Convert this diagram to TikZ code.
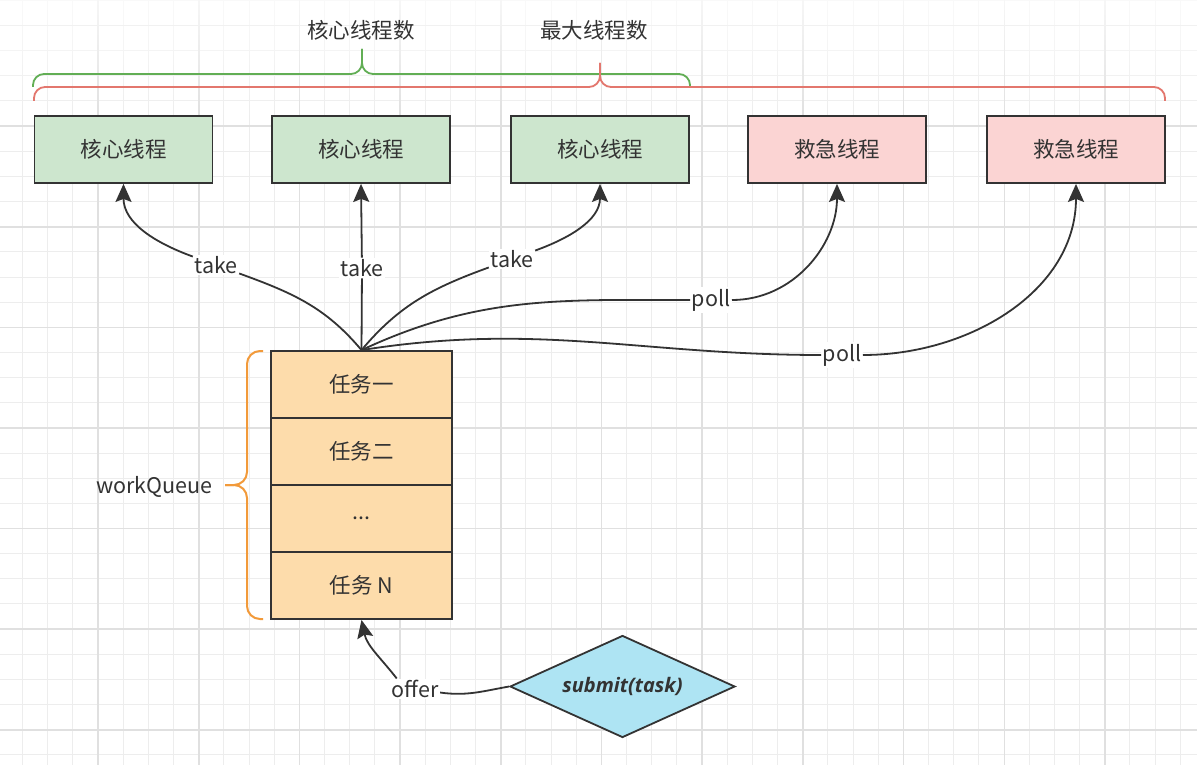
\documentclass[tikz,border=0pt]{standalone}
\usepackage{fontspec}
\setmainfont{Noto Sans CJK SC}
\newfontfamily\osans{Open Sans}
\usetikzlibrary{shapes.geometric,arrows.meta}
\definecolor{ink}{HTML}{333333}
\definecolor{gfill}{HTML}{CDE6CE}
\definecolor{rfill}{HTML}{FBD4D3}
\definecolor{ofill}{HTML}{FDDCAB}
\definecolor{dfill}{HTML}{AEE4F3}
\definecolor{gbrace}{HTML}{62AE55}
\definecolor{rbrace}{HTML}{E3776E}
\definecolor{obrace}{HTML}{F29A3A}
\definecolor{gminor}{HTML}{EDEDED}
\definecolor{gmajor}{HTML}{E0E0E0}
\newcommand\fsz{\fontsize{21.5}{25}\selectfont}
\begin{document}
\begin{tikzpicture}[x=1pt,y=-1pt,
  box/.style={draw=ink,line width=1.8pt,minimum width=178pt,minimum height=67pt,inner sep=0pt,font=\fsz,text=ink},
  core/.style={box,fill=gfill},
  spare/.style={box,fill=rfill},
  task/.style={draw=ink,line width=1.8pt,fill=ofill,minimum width=181pt,minimum height=67pt,inner sep=0pt,font=\fsz,text=ink},
  lbl/.style={fill=white,inner sep=1.5pt,font=\fsz,text=ink},
  edge/.style={draw=ink,line width=1.8pt,-{Stealth[length=18pt,width=16pt,inset=3pt]}},
  minorline/.style={draw=gminor,line width=1pt},
  majorline/.style={draw=gmajor,line width=1.6pt},
  bracestyle/.style={line width=1.8pt,rounded corners=11pt}
]
\useasboundingbox (0,0) rectangle (1197,765);
\fill[white] (0,0) rectangle (1197,765);
% grid
\foreach \i in {-3,...,44} {\draw[minorline] ({98+\i*25.17},0) -- ({98+\i*25.17},765);}
\foreach \i in {-1,...,30} {\draw[minorline] (0,{25.5+\i*25.15}) -- (1197,{25.5+\i*25.15});}
\foreach \i in {0,...,11} {\draw[majorline] ({98+\i*100.7},0) -- ({98+\i*100.7},765);}
\foreach \i in {0,...,7} {\draw[majorline] (0,{25.5+\i*100.6}) -- (1197,{25.5+\i*100.6});}
% top fade
\foreach \k in {0,...,23} {\pgfmathsetmacro\op{0.72*(1-\k/24)}
  \fill[white,fill opacity=\op] (0,{\k*5}) rectangle (1197,{\k*5+5});}

% braces
\draw[bracestyle,draw=gbrace] (33,87) |- (362,74) -- (362,49);
\draw[bracestyle,draw=gbrace] (690,87) |- (362,74) -- (362,49);
\draw[bracestyle,draw=rbrace] (34,101) |- (600,87) -- (600,63);
\draw[bracestyle,draw=rbrace] (1165,101) |- (600,87) -- (600,63);
\node[font=\fsz,text=ink] (ncore) at (361,30) {核心线程数};
\node[font=\fsz,text=ink] (nmax) at (594,30) {最大线程数};

% thread boxes
\node[core]  (b1) at (123.5,149.5) {核心线程};
\node[core]  (b2) at (361,149.5) {核心线程};
\node[core]  (b3) at (600,149.5) {核心线程};
\node[spare] (b4) at (837,149.5) {救急线程};
\node[spare] (b5) at (1076,149.5) {救急线程};

% queue
\node[task] (q1) at (361.5,384.5) {任务一};
\node[task] (q2) at (361.5,451.5) {任务二};
\node[task] (q3) at (361.5,518.5) {...};
\node[task] (q4) at (361.5,585.5) {任务 N};
\draw[bracestyle,draw=obrace,line width=2pt,rounded corners=13pt] (263,351) -| (247,485) -- (225,485);
\draw[bracestyle,draw=obrace,line width=2pt,rounded corners=13pt] (263,619) -| (247,485) -- (225,485);
\node[font=\fsz,text=ink,anchor=east] (wq) at (216,487) {workQueue};

% submit diamond
\node[diamond,aspect=2.2,draw=ink,line width=1.8pt,fill=dfill,minimum width=225pt,minimum height=102pt,inner sep=0pt,text=ink] (d) at (622.5,686.5) {\fontsize{20}{24}\selectfont\osans\bfseries\itshape submit(task)};

% labels
\node[lbl] (t1) at (216,265) {take};
\node[lbl] (t2) at (362,268) {take};
\node[lbl] (t3) at (512,259) {take};
\node[lbl] (p1) at (711,300) {poll};
\node[lbl] (p2) at (842,355) {poll};
\node[lbl] (off) at (415,689) {offer};

% edges
\draw[edge] (q1.north) to[out=130,in=-20] (t1) to[out=160,in=-90] (b1.south);
\draw[edge] (q1.north) -- (t2) -- (b2.south);
\draw[edge] (q1.north) to[out=50,in=200] (t3) to[out=20,in=-90] (b3.south);
\draw[edge] (q1.north) to[out=25,in=180] (p1) to[out=0,in=-90] (b4.south);
\draw[edge] (q1.north) to[out=9,in=180] (p2) to[out=0,in=-90] (b5.south);
\draw[edge] (d.west) to[out=190,in=-8] (off) (off.150) to[out=128,in=-78] (q4.south);
\end{tikzpicture}
\end{document}
